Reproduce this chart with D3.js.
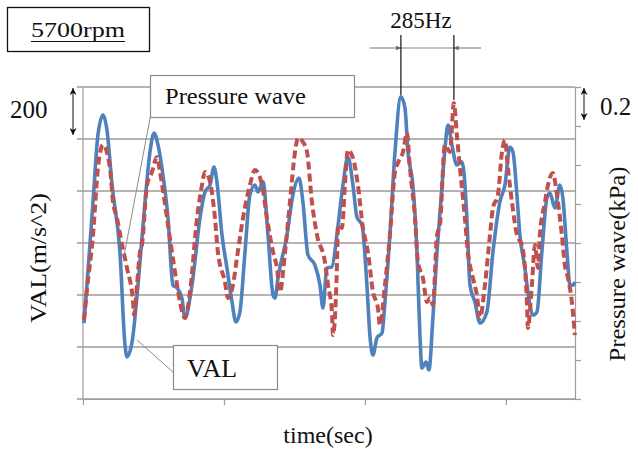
<!DOCTYPE html>
<html>
<head>
<meta charset="utf-8">
<script src="https://cdn.jsdelivr.net/npm/d3@7"></script>
<style>
  body { margin: 0; background: #fff; }
  text { font-family: "Liberation Serif", "Times New Roman", Tinos, serif; fill: #111; }
</style>
</head>
<body>
<div id="plot"></div>
<script>
// time (ms) and VAL (m/s^2)
const valTime = [0.07,0.28,0.71,1.06,1.42,1.70,2.06,2.62,2.98,3.12,3.48,3.90,4.40,4.75,5.04,5.32,5.60,6.03,6.38,6.67,
  7.02,7.23,7.73,8.30,8.65,9.01,9.29,9.50,9.86,10.21,10.57,10.85,11.13,11.49,11.84,12.20,12.41,12.77,13.12,13.48,
  13.62,13.83,14.47,14.89,15.32,15.60,15.96,16.45,16.81,17.02,17.30,17.66,18.01,18.44,18.79,19.15,19.43,19.79,20.14,20.35,
  20.57,20.85,21.21,21.42,21.77,22.13,22.55,22.84,23.05,23.40,23.69,23.90,24.04,24.33,24.54,24.82,25.11,25.39,25.67,25.89,
  26.17,26.52,26.88,27.02,27.23,27.45,27.80,28.16,28.65,29.08,29.57,29.93,30.28,30.50,30.78,30.99,31.35,31.56,31.91,32.20,
  32.55,32.91,33.12,33.48,33.83,34.04,34.33,34.54,34.75,34.90];
const valValues = [-308,-162,158,415,492,435,223,-35,-392,-438,-381,-162,158,350,423,377,288,96,-162,-173,
  -212,-288,-162,96,196,223,292,235,31,-96,-227,-304,-265,-35,185,223,196,235,31,-200,
  -212,-135,31,185,250,158,-46,-85,-162,-250,-96,-92,31,223,331,223,100,69,-162,-354,
  -431,-365,-346,-227,31,350,562,519,350,223,-35,-354,-481,-458,-488,-288,-35,165,358,454,
  377,300,312,273,96,-162,-227,-308,-265,-35,158,223,369,350,185,31,-96,-188,-277,-265,
  -35,173,192,135,223,173,-35,-162,-162,-150];

// time (ms) and pressure wave (kPa)
const presTime = [0.07,0.28,0.71,1.06,1.42,1.91,2.13,2.41,2.77,3.12,3.55,3.62,3.83,4.04,4.18,4.54,4.89,5.25,5.46,5.96,
  6.31,6.67,6.88,7.23,7.59,8.09,8.44,8.65,9.01,9.36,9.57,10.07,10.28,10.64,10.92,11.35,11.84,12.20,12.70,13.05,
  13.48,13.76,13.97,14.33,14.68,15.04,15.25,15.60,15.89,16.24,16.60,17.16,17.38,17.66,17.73,18.01,18.09,18.37,18.58,18.79,
  19.15,19.50,19.86,20.21,20.57,20.92,21.06,21.42,21.77,22.13,22.34,22.70,22.98,23.19,23.55,23.76,24.11,24.40,24.61,24.82,
  25.11,25.32,25.67,26.03,26.31,26.52,26.74,27.09,27.30,27.66,27.94,28.16,28.51,28.87,29.08,29.43,29.72,29.93,30.14,30.43,
  30.78,31.13,31.35,31.49,31.56,31.84,32.06,32.27,32.41,32.77,32.98,33.33,33.62,33.97,34.18,34.40,34.68,34.89];
const presValues = [-0.395,-0.241,0.041,0.385,0.503,0.385,0.210,0.128,-0.010,-0.128,-0.303,-0.369,-0.215,-0.046,-0.010,0.297,0.364,0.441,0.364,0.128,
  -0.046,-0.215,-0.303,-0.385,-0.251,0.128,0.297,0.364,0.313,0.128,-0.046,-0.200,-0.282,-0.215,-0.077,0.128,0.297,0.374,0.297,0.128,
  -0.046,-0.128,-0.251,-0.046,0.210,0.467,0.538,0.518,0.467,0.210,0.041,-0.097,-0.215,-0.354,-0.472,-0.128,0.092,0.077,0.297,0.477,
  0.436,0.297,0.077,-0.046,-0.251,-0.333,-0.421,-0.215,0.041,0.364,0.410,0.467,0.564,0.385,0.128,-0.097,-0.179,-0.303,-0.282,-0.318,
  0.041,0.092,0.503,0.467,0.718,0.554,0.385,0.128,-0.046,-0.179,-0.267,-0.385,-0.215,0.041,0.179,0.246,0.467,0.528,0.385,0.210,
  0.041,-0.010,-0.128,-0.303,-0.436,-0.215,-0.010,-0.128,0.041,0.210,0.297,0.359,0.246,0.041,-0.113,-0.179,-0.303,-0.472];

const leftTicks = [-600,-400,-200,0,200,400,600];
const rightTicks = [-0.8,-0.6,-0.4,-0.2,0,0.2,0.4,0.6,0.8];
const timeTicks = [0,10,20,30];

const W = 638, H = 452;
const plot = {left: 83, right: 575, top: 87, bottom: 399};

const svg = d3.select("#plot").append("svg")
    .attr("width", W).attr("height", H);

const x = d3.scaleLinear().domain([0, 34.9]).range([plot.left, plot.right]);
const yL = d3.scaleLinear().domain([-600, 600]).range([plot.bottom, plot.top]);
const yR = d3.scaleLinear().domain([-0.8, 0.8]).range([plot.bottom, plot.top]);

const gridColor = "#a09a98";

// horizontal gridlines (with a small tick on the left)
svg.append("g").selectAll("line")
  .data(leftTicks)
  .join("line")
    .attr("x1", plot.left - 6).attr("x2", plot.right)
    .attr("y1", d => yL(d)).attr("y2", d => yL(d))
    .attr("stroke", gridColor).attr("stroke-width", 1.4);

// left axis line
svg.append("line").attr("x1", plot.left).attr("x2", plot.left)
  .attr("y1", plot.top).attr("y2", plot.bottom)
  .attr("stroke", gridColor).attr("stroke-width", 1.2);

// right axis ticks
const rAxis = svg.append("g")
    .attr("transform", `translate(${plot.right},0)`)
    .call(d3.axisRight(yR).tickValues(rightTicks).tickSize(6).tickFormat(""));
rAxis.selectAll("path, line").attr("stroke", gridColor).attr("stroke-width", 1.2);

// bottom axis ticks
const bAxis = svg.append("g")
    .attr("transform", `translate(0,${plot.bottom})`)
    .call(d3.axisBottom(x).tickValues(timeTicks).tickSize(6).tickSizeOuter(0).tickFormat(""));
bAxis.selectAll("path, line").attr("stroke", gridColor).attr("stroke-width", 1.2);

// series
const valLine = d3.line()
    .x((d, i) => x(valTime[i]))
    .y(d => yL(d))
    .curve(d3.curveMonotoneX);
const presLine = d3.line()
    .x((d, i) => x(presTime[i]))
    .y(d => yR(d))
    .curve(d3.curveMonotoneX);

svg.append("path")
    .attr("d", valLine(valValues))
    .attr("fill", "none")
    .attr("stroke", "#4f81bd")
    .attr("stroke-width", 3.6)
    .attr("stroke-linejoin", "round");

svg.append("path")
    .attr("d", presLine(presValues))
    .attr("fill", "none")
    .attr("stroke", "#c0504d")
    .attr("stroke-width", 4)
    .attr("stroke-dasharray", "8,4");

// arrow markers
const defs = svg.append("defs");
defs.append("marker")
    .attr("id", "arr")
    .attr("viewBox", "0 0 10 10")
    .attr("refX", 10).attr("refY", 5)
    .attr("markerWidth", 7).attr("markerHeight", 7)
    .attr("orient", "auto-start-reverse")
  .append("path")
    .attr("d", "M0,0 L10,5 L0,10 L3,5 Z")
    .attr("fill", "#111");
defs.append("marker")
    .attr("id", "tiny")
    .attr("viewBox", "0 0 10 10")
    .attr("refX", 10).attr("refY", 5)
    .attr("markerWidth", 4).attr("markerHeight", 4)
    .attr("orient", "auto")
  .append("path")
    .attr("d", "M0,0 L10,5 L0,10 Z")
    .attr("fill", "#666");

// scale annotations (200 and 0.2)
svg.append("line")
    .attr("x1", 73).attr("x2", 73)
    .attr("y1", yL(600) + 1).attr("y2", yL(400) - 4)
    .attr("stroke", "#111").attr("stroke-width", 1)
    .attr("marker-start", "url(#arr)").attr("marker-end", "url(#arr)");
svg.append("text").attr("x", 10).attr("y", 118)
    .attr("font-size", 25).text("200");

svg.append("line")
    .attr("x1", 584).attr("x2", 584)
    .attr("y1", yR(0.8) + 1).attr("y2", yR(0.6) - 6)
    .attr("stroke", "#111").attr("stroke-width", 1)
    .attr("marker-start", "url(#arr)").attr("marker-end", "url(#arr)");
svg.append("text").attr("x", 600).attr("y", 115)
    .attr("font-size", 25).text("0.2");

// 285Hz annotation
const p1 = x(22.55), p2 = x(26.31);
svg.append("line").attr("x1", 370).attr("x2", p1).attr("y1", 48).attr("y2", 48)
    .attr("stroke", "#888").attr("stroke-width", 1.2).attr("marker-end", "url(#tiny)");
svg.append("line").attr("x1", p1).attr("x2", p2).attr("y1", 48).attr("y2", 48)
    .attr("stroke", "#888").attr("stroke-width", 1.2);
svg.append("line").attr("x1", 481).attr("x2", p2).attr("y1", 48).attr("y2", 48)
    .attr("stroke", "#888").attr("stroke-width", 1.2).attr("marker-end", "url(#tiny)");
svg.append("line").attr("x1", p1).attr("x2", p1).attr("y1", 35).attr("y2", yL(562) - 2)
    .attr("stroke", "#111").attr("stroke-width", 1.2);
svg.append("line").attr("x1", p2).attr("x2", p2).attr("y1", 35).attr("y2", yR(0.718) - 3)
    .attr("stroke", "#111").attr("stroke-width", 1.2);
svg.append("text").attr("x", 421).attr("y", 28)
    .attr("text-anchor", "middle").attr("font-size", 23).text("285Hz");

// rpm box
svg.append("rect").attr("x", 7.5).attr("y", 7.5).attr("width", 142).attr("height", 44)
    .attr("fill", "#fff").attr("stroke", "#111").attr("stroke-width", 1.3);
svg.append("text").attr("x", 78).attr("y", 37)
    .attr("text-anchor", "middle").attr("font-size", 21)
    .attr("textLength", 94).attr("lengthAdjust", "spacingAndGlyphs")
    .text("5700rpm");
svg.append("line").attr("x1", 31).attr("x2", 125).attr("y1", 41.5).attr("y2", 41.5)
    .attr("stroke", "#111").attr("stroke-width", 1);

// callouts
svg.append("line").attr("x1", 152).attr("y1", 108).attr("x2", 124).attr("y2", 256)
    .attr("stroke", "#8a8a8a").attr("stroke-width", 1);
svg.append("rect").attr("x", 150.5).attr("y", 75.5).attr("width", 204).attr("height", 42)
    .attr("fill", "#fff").attr("stroke", "#8a8a8a").attr("stroke-width", 1.2);
svg.append("text").attr("x", 165).attr("y", 104).attr("font-size", 23)
    .attr("textLength", 141).attr("lengthAdjust", "spacingAndGlyphs")
    .text("Pressure wave");

svg.append("line").attr("x1", 137).attr("y1", 340).attr("x2", 174).attr("y2", 373)
    .attr("stroke", "#8a8a8a").attr("stroke-width", 1);
svg.append("rect").attr("x", 173.5).attr("y", 345.5).attr("width", 104).attr("height", 44)
    .attr("fill", "#fff").attr("stroke", "#8a8a8a").attr("stroke-width", 1.2);
svg.append("text").attr("x", 187).attr("y", 377).attr("font-size", 25)
    .attr("textLength", 50).attr("lengthAdjust", "spacingAndGlyphs")
    .text("VAL");

// axis titles
svg.append("text")
    .attr("transform", "translate(46,258) rotate(-90)")
    .attr("text-anchor", "middle").attr("font-size", 24)
    .attr("textLength", 130).attr("lengthAdjust", "spacingAndGlyphs")
    .text("VAL(m/s^2)");
svg.append("text")
    .attr("transform", "translate(625,264) rotate(-90)")
    .attr("text-anchor", "middle").attr("font-size", 24)
    .attr("textLength", 195).attr("lengthAdjust", "spacingAndGlyphs")
    .text("Pressure wave(kPa)");
svg.append("text")
    .attr("x", 328).attr("y", 443)
    .attr("text-anchor", "middle").attr("font-size", 24)
    .text("time(sec)");
</script>
</body>
</html>
